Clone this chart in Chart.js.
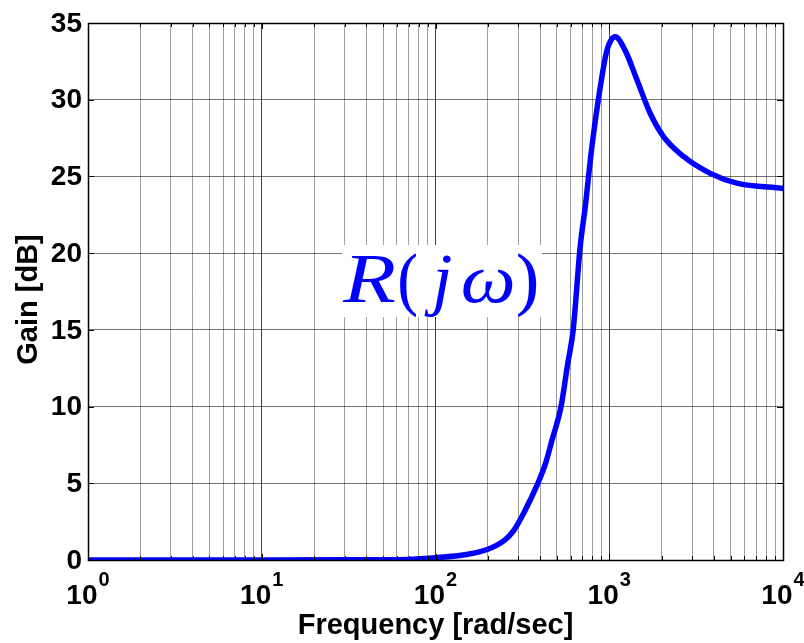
<!DOCTYPE html>
<html>
<head>
<meta charset="utf-8">
<script src="https://cdn.jsdelivr.net/npm/chart.js@4/dist/chart.umd.min.js"></script>
<style>
  html, body { margin: 0; padding: 0; background: #fff; }
  #wrap { width: 804px; height: 643px; }
</style>
</head>
<body>
<div id="wrap"><canvas id="chart"></canvas></div>
<script>
// frequency [rad/sec] and gain [dB]
const freq = [1, 10, 30, 50, 70, 100, 150, 200, 250, 281, 330, 383, 430, 468, 528, 575, 620, 680, 727, 794, 887, 969, 1081, 1236, 1443, 1722, 2052, 2675, 3811, 5420, 10000]
const gain = [0, 0, 0.01, 0.02, 0.04, 0.15, 0.36, 0.7, 1.3, 1.9, 3.3, 4.85, 6.3, 7.8, 10, 12.7, 15, 20.4, 23, 26.9, 30.8, 33.2, 34.1, 33.2, 31.3, 29.1, 27.6, 26.3, 25.2, 24.56, 24.22]

const xDecades = [0, 1, 2, 3, 4]
const yTicks = [0, 5, 10, 15, 20, 25, 30, 35]
const curveLabel = ['R', '(', 'j', 'ω', ')']

const FONT = "'Liberation Sans', Arial, sans-serif"
const SERIF = "'Liberation Serif', 'Times New Roman', serif"

let isDecade = v => Math.abs(Math.log10(v) - Math.round(Math.log10(v))) < 1e-9

let xGrid = []
xDecades.slice(0, -1).forEach(e => {
  for (let k = 1; k < 10; k++) xGrid.push(k * Math.pow(10, e))
})
xGrid.push(Math.pow(10, xDecades[xDecades.length - 1]))

let matlabAxes = {
  id: 'matlabAxes',
  beforeDatasetsDraw (chart) {
    let ctx = chart.ctx
    let a = chart.chartArea
    // white box behind the text label
    ctx.save()
    ctx.fillStyle = '#fff'
    ctx.fillRect(a.left + 254, a.top + 222, 200, 72)
    ctx.fillStyle = '#0000ff'
    ctx.textBaseline = 'alphabetic'
    let base = a.top + 279
    // left edge and ink width of each glyph, like the LaTeX rendering
    let pieces = [
      { t: curveLabel[0], x: 254, w: 53, italic: true },
      { t: curveLabel[1], x: 312, w: 16, italic: false },
      { t: curveLabel[2], x: 336, w: 27, italic: true },
      { t: curveLabel[3], x: 375, w: 50, italic: true },
      { t: curveLabel[4], x: 430, w: 18, italic: false }
    ]
    pieces.forEach(p => {
      ctx.font = (p.italic ? 'italic ' : '') + '70px ' + SERIF
      let m = ctx.measureText(p.t)
      let ink = m.actualBoundingBoxLeft + m.actualBoundingBoxRight
      let sx = p.w / ink
      ctx.save()
      ctx.translate(a.left + p.x, base)
      ctx.scale(sx, 1)
      ctx.fillText(p.t, m.actualBoundingBoxLeft, 0)
      if (!p.italic) {
        ctx.fillText(p.t, m.actualBoundingBoxLeft + 1, 0)
      }
      ctx.restore()
    })
    ctx.restore()
  },
  afterDraw (chart) {
    let ctx = chart.ctx
    let a = chart.chartArea
    let xs = chart.scales.x
    let ys = chart.scales.y
    ctx.save()

    // inward tick marks
    ctx.strokeStyle = '#000'
    ctx.lineWidth = 1
    ctx.beginPath()
    xGrid.forEach(v => {
      let px = Math.round(xs.getPixelForValue(v)) + 0.5
      let len = isDecade(v) ? 6 : 4
      ctx.moveTo(px, a.bottom); ctx.lineTo(px, a.bottom - len)
      ctx.moveTo(px, a.top); ctx.lineTo(px, a.top + len)
    })
    yTicks.forEach(v => {
      let py = Math.round(ys.getPixelForValue(v)) + 0.5
      ctx.moveTo(a.left, py); ctx.lineTo(a.left + 6, py)
      ctx.moveTo(a.right, py); ctx.lineTo(a.right - 6, py)
    })
    ctx.stroke()

    // axes box
    ctx.lineWidth = 1.5
    ctx.strokeRect(Math.round(a.left) + 0.5, Math.round(a.top) + 0.5, Math.round(a.right - a.left), Math.round(a.bottom - a.top))

    // y tick labels
    ctx.fillStyle = '#000'
    ctx.font = 'bold 28px ' + FONT
    ctx.textAlign = 'right'
    ctx.textBaseline = 'middle'
    yTicks.forEach(v => {
      ctx.fillText(String(v), a.left - 6, ys.getPixelForValue(v) + 1)
    })

    // x tick labels 10^n
    ctx.textBaseline = 'alphabetic'
    ctx.textAlign = 'left'
    xDecades.forEach(e => {
      let px = xs.getPixelForValue(Math.pow(10, e))
      ctx.font = 'bold 28px ' + FONT
      let w1 = ctx.measureText('10').width
      ctx.font = 'bold 20px ' + FONT
      let w2 = ctx.measureText(String(e)).width
      let x0 = px - (w1 + w2 + 1) / 2
      ctx.font = 'bold 28px ' + FONT
      ctx.fillText('10', x0, a.bottom + 43.5)
      ctx.font = 'bold 20px ' + FONT
      ctx.fillText(String(e), x0 + w1 + 1, a.bottom + 26)
    })

    // axis titles
    ctx.font = 'bold 29px ' + FONT
    ctx.textAlign = 'center'
    ctx.textBaseline = 'alphabetic'
    ctx.fillText('Frequency [rad/sec]', (a.left + a.right) / 2, a.bottom + 74)
    ctx.translate(37, (a.top + a.bottom) / 2 + 8)
    ctx.rotate(-Math.PI / 2)
    ctx.fillText('Gain [dB]', 0, 0)
    ctx.restore()
  }
}

new Chart(document.getElementById('chart'), {
  type: 'line',
  data: {
    datasets: [
      {
        label: 'R(jw)',
        data: freq.map((f, i) => ({ x: f, y: gain[i] })),
        borderColor: '#0000ff',
        borderWidth: 5.5,
        pointRadius: 0,
        fill: false,
        cubicInterpolationMode: 'monotone',
        borderCapStyle: 'round',
        borderJoinStyle: 'round'
      }
    ]
  },
  options: {
    responsive: true,
    maintainAspectRatio: false,
    animation: false,
    layout: {
      padding: { left: 88, right: 21, top: 23, bottom: 83 }
    },
    plugins: {
      legend: { display: false },
      tooltip: { enabled: false }
    },
    scales: {
      x: {
        type: 'logarithmic',
        min: 1,
        max: 10000,
        afterBuildTicks (scale) {
          scale.ticks = xGrid.map(v => ({ value: v, major: isDecade(v) }))
        },
        ticks: { display: false },
        border: { display: false },
        grid: {
          drawTicks: false,
          lineWidth: 1,
          color (c) {
            return c.tick && isDecade(c.tick.value) ? 'rgba(0,0,0,0.75)' : 'rgba(0,0,0,0.38)'
          }
        }
      },
      y: {
        type: 'linear',
        min: 0,
        max: 35,
        ticks: { display: false, stepSize: 5 },
        border: { display: false },
        grid: {
          drawTicks: false,
          lineWidth: 1,
          color: 'rgba(0,0,0,0.55)'
        }
      }
    }
  },
  plugins: [matlabAxes]
})
</script>
</body>
</html>
